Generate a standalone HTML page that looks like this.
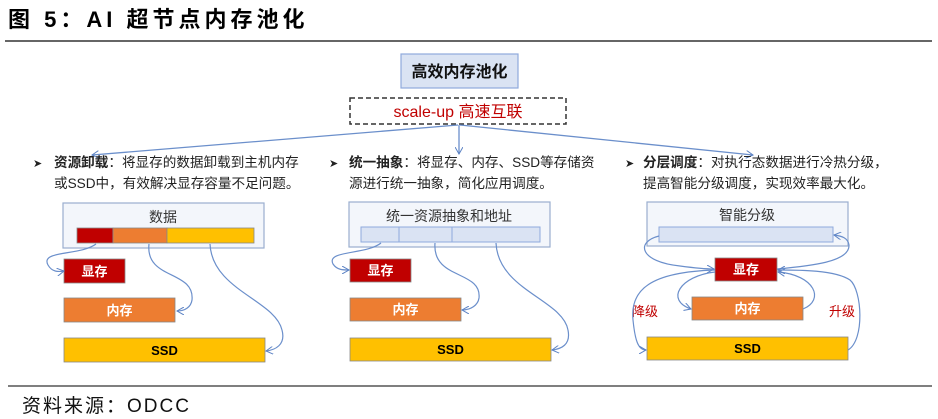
<!DOCTYPE html>
<html><head><meta charset="utf-8"><style>
html,body{margin:0;padding:0;background:#fff;}
svg{display:block;}
text{font-family:"Liberation Sans","Noto Sans CJK SC",sans-serif;}
</style></head><body>
<svg width="938" height="419" viewBox="0 0 938 419" xmlns="http://www.w3.org/2000/svg">
<defs>
<marker id="a" markerWidth="8" markerHeight="8" refX="7" refY="4" orient="auto" markerUnits="userSpaceOnUse">
<path d="M0,0 L7,4 L0,8" fill="none" stroke="#5b82c4" stroke-width="1"/></marker>
</defs>
<text x="8" y="27" font-size="22" font-weight="bold" fill="#000" letter-spacing="4" font-family="'Noto Sans CJK SC',sans-serif">图 5：AI 超节点内存池化</text>
<line x1="5" y1="41" x2="932" y2="41" stroke="#333" stroke-width="1.5"/>

<rect x="401" y="54" width="117" height="34" fill="#dae3f3" stroke="#8faadc" stroke-width="1.2"/>
<text x="459.5" y="77" font-size="16" font-weight="bold" text-anchor="middle" fill="#111">高效内存池化</text>
<rect x="350" y="98" width="216" height="26" fill="none" stroke="#333" stroke-width="1.5" stroke-dasharray="5,3"/>
<text x="458" y="117" font-size="16" text-anchor="middle" fill="#c00000">scale-up 高速互联</text>

<g stroke="#6b8fcb" stroke-width="1.3" fill="none">
<line x1="458" y1="125" x2="92" y2="155" marker-end="url(#a)"/>
<line x1="459" y1="125" x2="459" y2="154" marker-end="url(#a)"/>
<line x1="460" y1="125" x2="753" y2="155" marker-end="url(#a)"/>
</g>

<g font-size="13.6" fill="#222">
<text x="33" y="167" font-size="11">➤</text>
<text x="54" y="167"><tspan font-weight="bold">资源卸载</tspan>：将显存的数据卸载到主机内存</text>
<text x="54" y="188">或SSD中，有效解决显存容量不足问题。</text>
<text x="329" y="167" font-size="11">➤</text>
<text x="349" y="167"><tspan font-weight="bold">统一抽象</tspan>：将显存、内存、SSD等存储资</text>
<text x="349" y="188">源进行统一抽象，简化应用调度。</text>
<text x="625" y="167" font-size="11">➤</text>
<text x="643" y="167"><tspan font-weight="bold">分层调度</tspan>：对执行态数据进行冷热分级，</text>
<text x="643" y="188">提高智能分级调度，实现效率最大化。</text>
</g>

<!-- left -->
<rect x="63" y="203" width="201" height="45" fill="#f3f6fb" stroke="#9aaecf" stroke-width="1.2"/>
<text x="163" y="222" font-size="14" text-anchor="middle" fill="#333">数据</text>
<rect x="77" y="228" width="36" height="15" fill="#c00000" stroke="#888" stroke-width="0.8"/>
<rect x="113" y="228" width="54" height="15" fill="#ed7d31" stroke="#888" stroke-width="0.8"/>
<rect x="167" y="228" width="87" height="15" fill="#ffc000" stroke="#888" stroke-width="0.8"/>
<rect x="64" y="259" width="61" height="24" fill="#c00000" stroke="#888" stroke-width="0.8"/>
<text x="94.5" y="276" font-size="13" font-weight="bold" text-anchor="middle" fill="#fff">显存</text>
<rect x="64" y="298" width="111" height="24" fill="#ed7d31" stroke="#888" stroke-width="0.8"/>
<text x="119.5" y="315" font-size="13" font-weight="bold" text-anchor="middle" fill="#fff">内存</text>
<rect x="64" y="338" width="201" height="24" fill="#ffc000" stroke="#888" stroke-width="0.8"/>
<text x="164.5" y="355" font-size="13" font-weight="bold" text-anchor="middle" fill="#000">SSD</text>
<g stroke="#6b8fcb" stroke-width="1.2" fill="none">
<path d="M96,244 C80,256 40,250 48,265 C52,272 58,272 64,271" marker-end="url(#a)"/>
<path d="M149,244 C145,280 195,270 192,300 C191,307 185,311 177,311" marker-end="url(#a)"/>
<path d="M210,244 C212,290 275,300 282,330 C286,345 275,350 266,351" marker-end="url(#a)"/>
</g>

<!-- middle -->
<rect x="349" y="202" width="201" height="45" fill="#f3f6fb" stroke="#9aaecf" stroke-width="1.2"/>
<text x="449" y="221" font-size="14" text-anchor="middle" fill="#333">统一资源抽象和地址</text>
<rect x="361" y="227" width="38" height="15" fill="#dae3f3" stroke="#8faadc" stroke-width="1"/>
<rect x="399" y="227" width="53" height="15" fill="#dae3f3" stroke="#8faadc" stroke-width="1"/>
<rect x="452" y="227" width="88" height="15" fill="#dae3f3" stroke="#8faadc" stroke-width="1"/>
<rect x="350" y="259" width="61" height="23" fill="#c00000" stroke="#888" stroke-width="0.8"/>
<text x="380.5" y="275" font-size="13" font-weight="bold" text-anchor="middle" fill="#fff">显存</text>
<rect x="350" y="298" width="111" height="23" fill="#ed7d31" stroke="#888" stroke-width="0.8"/>
<text x="405.5" y="314" font-size="13" font-weight="bold" text-anchor="middle" fill="#fff">内存</text>
<rect x="350" y="338" width="201" height="23" fill="#ffc000" stroke="#888" stroke-width="0.8"/>
<text x="450.5" y="354" font-size="13" font-weight="bold" text-anchor="middle" fill="#000">SSD</text>
<g stroke="#6b8fcb" stroke-width="1.2" fill="none">
<path d="M381,243 C366,255 326,250 333,264 C337,270 343,270 349,270" marker-end="url(#a)"/>
<path d="M435,243 C432,280 482,270 479,298 C478,305 471,310 462,310" marker-end="url(#a)"/>
<path d="M496,243 C498,290 563,300 568,330 C571,345 561,349 552,350" marker-end="url(#a)"/>
</g>

<!-- right -->
<rect x="647" y="202" width="201" height="44" fill="#f3f6fb" stroke="#9aaecf" stroke-width="1.2"/>
<text x="747" y="220" font-size="14" text-anchor="middle" fill="#333">智能分级</text>
<rect x="659" y="227" width="174" height="15" fill="#dae3f3" stroke="#8faadc" stroke-width="1"/>
<rect x="715" y="258" width="62" height="23" fill="#c00000" stroke="#888" stroke-width="0.8"/>
<text x="746" y="274" font-size="13" font-weight="bold" text-anchor="middle" fill="#fff">显存</text>
<rect x="692" y="297" width="111" height="23" fill="#ed7d31" stroke="#888" stroke-width="0.8"/>
<text x="747.5" y="313" font-size="13" font-weight="bold" text-anchor="middle" fill="#fff">内存</text>
<rect x="647" y="337" width="201" height="23" fill="#ffc000" stroke="#888" stroke-width="0.8"/>
<text x="747.5" y="353" font-size="13" font-weight="bold" text-anchor="middle" fill="#000">SSD</text>
<text x="632" y="316" font-size="13" fill="#c00000">降级</text>
<text x="829" y="316" font-size="13" fill="#c00000">升级</text>
<g stroke="#6b8fcb" stroke-width="1.2" fill="none">
<path d="M659,236 C635,242 640,262 680,266 C695,268 705,269 714,269" marker-end="url(#a)"/>
<path d="M777,269 C810,266 850,262 849,245 C848,238 842,236 834,235" marker-end="url(#a)"/>
<path d="M715,270 C650,272 630,290 633,320 C635,340 638,350 646,350" marker-end="url(#a)"/>
<path d="M715,272 C680,276 665,300 691,309" marker-end="url(#a)"/>
<path d="M803,309 C825,300 815,275 778,272" marker-end="url(#a)"/>
<path d="M848,350 C865,340 862,290 850,280 C835,270 800,270 778,270" marker-end="url(#a)"/>
</g>

<line x1="8" y1="386" x2="932" y2="386" stroke="#555" stroke-width="1.5"/>
<text x="22" y="412" font-size="19" fill="#111" letter-spacing="2">资料来源：ODCC</text>
</svg>
</body></html>
